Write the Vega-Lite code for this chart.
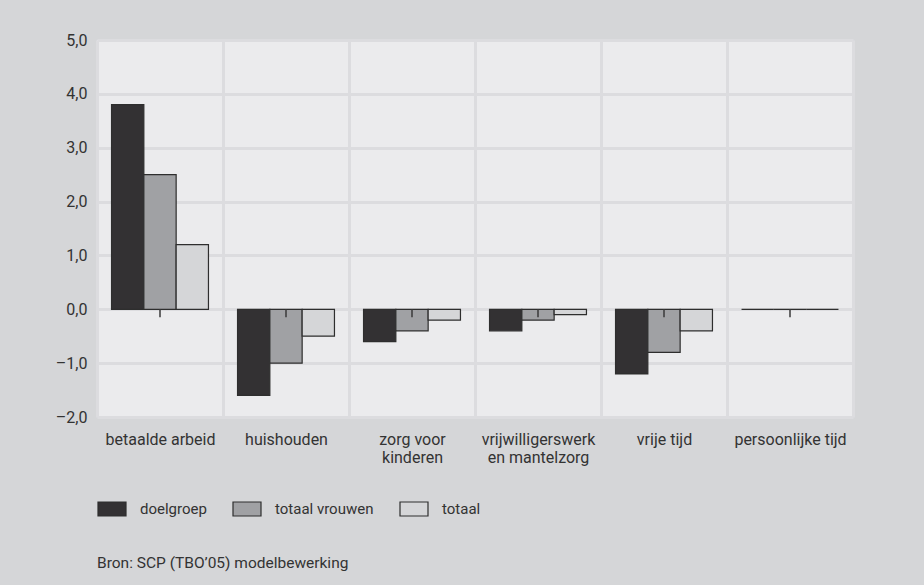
{
  "$schema": "https://vega.github.io/schema/vega-lite/v6.json",
  "width": 756,
  "height": 377,
  "autosize": {"type": "none"},
  "padding": {"left": 97, "top": 40, "right": 71, "bottom": 168},
  "background": "#d5d6d8",
  "title": {
    "text": "Bron: SCP (TBO’05) modelbewerking",
    "orient": "bottom",
    "anchor": "start",
    "frame": "group",
    "font": "Roboto",
    "fontSize": 15.5,
    "fontWeight": "normal",
    "color": "#333333",
    "offset": 37
  },
  "datasets": {
    "vals": [
      {"category": "betaalde arbeid", "series": "doelgroep", "value": 3.8},
      {"category": "betaalde arbeid", "series": "totaal vrouwen", "value": 2.5},
      {"category": "betaalde arbeid", "series": "totaal", "value": 1.2},
      {"category": "huishouden", "series": "doelgroep", "value": -1.6},
      {"category": "huishouden", "series": "totaal vrouwen", "value": -1.0},
      {"category": "huishouden", "series": "totaal", "value": -0.5},
      {"category": "zorg voor kinderen", "series": "doelgroep", "value": -0.6},
      {"category": "zorg voor kinderen", "series": "totaal vrouwen", "value": -0.4},
      {"category": "zorg voor kinderen", "series": "totaal", "value": -0.2},
      {"category": "vrijwilligerswerk en mantelzorg", "series": "doelgroep", "value": -0.4},
      {"category": "vrijwilligerswerk en mantelzorg", "series": "totaal vrouwen", "value": -0.2},
      {"category": "vrijwilligerswerk en mantelzorg", "series": "totaal", "value": -0.1},
      {"category": "vrije tijd", "series": "doelgroep", "value": -1.2},
      {"category": "vrije tijd", "series": "totaal vrouwen", "value": -0.8},
      {"category": "vrije tijd", "series": "totaal", "value": -0.4},
      {"category": "persoonlijke tijd", "series": "doelgroep", "value": 0.0},
      {"category": "persoonlijke tijd", "series": "totaal vrouwen", "value": 0.0},
      {"category": "persoonlijke tijd", "series": "totaal", "value": 0.0}
    ],
    "cats": [
      {"category": "betaalde arbeid"},
      {"category": "huishouden"},
      {"category": "zorg voor kinderen"},
      {"category": "vrijwilligerswerk en mantelzorg"},
      {"category": "vrije tijd"},
      {"category": "persoonlijke tijd"}
    ]
  },
  "config": {
    "view": {"fill": "#ebebed", "stroke": null},
    "font": "Roboto",
    "axis": {
      "labelFont": "Roboto",
      "labelColor": "#333333",
      "labelFontSize": 16,
      "domain": false,
      "ticks": false,
      "title": null
    },
    "legend": {
      "orient": "bottom",
      "direction": "horizontal",
      "title": null,
      "labelFont": "Roboto",
      "labelFontSize": 15,
      "labelColor": "#333333",
      "symbolType": "M-1,-0.5H1V0.5H-1Z",
      "symbolSize": 784,
      "symbolStrokeColor": "#2e2e2e",
      "symbolStrokeWidth": 1.2,
      "labelOffset": 13,
      "columnPadding": 23,
      "gridAlign": "none",
      "offset": 28,
      "padding": 0
    }
  },
  "layer": [
    {
      "data": {"name": "vals"},
      "mark": {"type": "bar", "stroke": "#2e2e2e", "strokeWidth": 1.2},
      "encoding": {
        "x": {
          "field": "category",
          "type": "nominal",
          "sort": null,
          "scale": {"paddingInner": 0, "paddingOuter": 0},
          "axis": {
            "labelAngle": 0,
            "labelPadding": 14,
            "labelLineHeight": 18.5,
            "grid": true,
            "tickBand": "extent",
            "gridColor": "#dcdcdf",
            "gridWidth": 3,
            "labelExpr": "datum.label == 'zorg voor kinderen' ? ['zorg voor', 'kinderen'] : datum.label == 'vrijwilligerswerk en mantelzorg' ? ['vrijwilligerswerk', 'en mantelzorg'] : datum.label"
          }
        },
        "xOffset": {
          "field": "series",
          "type": "nominal",
          "sort": ["doelgroep", "totaal vrouwen", "totaal"],
          "scale": {"paddingInner": 0, "paddingOuter": 0.45}
        },
        "y": {
          "field": "value",
          "type": "quantitative",
          "scale": {"domain": [-2, 5], "nice": false, "zero": false},
          "axis": {
            "values": [-2, -1, 0, 1, 2, 3, 4, 5],
            "grid": true,
            "gridColor": "#dcdcdf",
            "gridWidth": 3,
            "labelPadding": 10,
            "labelExpr": "replace(replace(replace(format(datum.value, '.1f'), '.', ','), '−', '–'), '-', '–')"
          }
        },
        "fill": {
          "field": "series",
          "type": "nominal",
          "sort": ["doelgroep", "totaal vrouwen", "totaal"],
          "scale": {
            "domain": ["doelgroep", "totaal vrouwen", "totaal"],
            "range": ["#333133", "#a0a1a4", "#d5d6d8"]
          }
        }
      }
    },
    {
      "mark": {"type": "rule", "color": "#3a3a3a", "strokeWidth": 1.5},
      "encoding": {"y": {"datum": 0}}
    },
    {
      "data": {"name": "cats"},
      "mark": {"type": "rule", "color": "#3a3a3a", "strokeWidth": 1.5},
      "encoding": {
        "x": {"field": "category", "type": "nominal", "sort": null},
        "y": {"datum": 0},
        "y2": {"datum": -0.15}
      }
    }
  ]
}
